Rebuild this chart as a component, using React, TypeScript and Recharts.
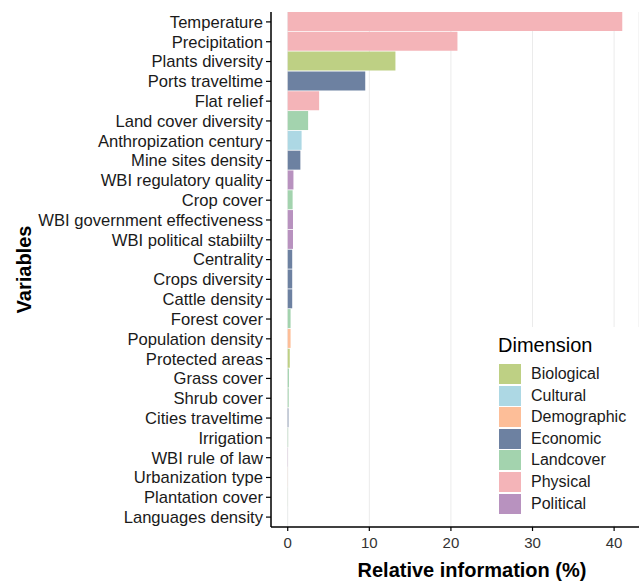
import { BarChart, Bar, XAxis, YAxis, CartesianGrid, Cell, Label } from "recharts";

const variables = [
  "Temperature",
  "Precipitation",
  "Plants diversity",
  "Ports traveltime",
  "Flat relief",
  "Land cover diversity",
  "Anthropization century",
  "Mine sites density",
  "WBI regulatory quality",
  "Crop cover",
  "WBI government effectiveness",
  "WBI political stabiilty",
  "Centrality",
  "Crops diversity",
  "Cattle density",
  "Forest cover",
  "Population density",
  "Protected areas",
  "Grass cover",
  "Shrub cover",
  "Cities traveltime",
  "Irrigation",
  "WBI rule of law",
  "Urbanization type",
  "Plantation cover",
  "Languages density",
];

const values = [
  41.0, 20.8, 13.2, 9.5, 3.85, 2.5, 1.7, 1.55, 0.7, 0.6, 0.65, 0.65, 0.55, 0.55,
  0.55, 0.35, 0.35, 0.25, 0.15, 0.12, 0.08, 0.05, 0.02, 0.01, 0.01, 0.005,
];

const dimensions = [
  "Physical",
  "Physical",
  "Biological",
  "Economic",
  "Physical",
  "Landcover",
  "Cultural",
  "Economic",
  "Political",
  "Landcover",
  "Political",
  "Political",
  "Economic",
  "Economic",
  "Economic",
  "Landcover",
  "Demographic",
  "Biological",
  "Landcover",
  "Landcover",
  "Economic",
  "Landcover",
  "Political",
  "Demographic",
  "Landcover",
  "Cultural",
];

const legendNames = [
  "Biological",
  "Cultural",
  "Demographic",
  "Economic",
  "Landcover",
  "Physical",
  "Political",
];

const xTicks = [0, 10, 20, 30, 40];

const palette: Record<string, string> = {
  Biological: "#BED084",
  Cultural: "#ADD8E4",
  Demographic: "#FDBE98",
  Economic: "#6D81A1",
  Landcover: "#A3D3AE",
  Physical: "#F4B4B8",
  Political: "#B892BF",
};

const data = variables.map((name, i) => ({
  name,
  value: values[i],
  dim: dimensions[i],
}));

const FONT = '"Liberation Sans", Arial, sans-serif';

export default function App() {
  return (
    <div
      style={{
        position: "absolute",
        left: 0,
        top: 0,
        width: 639,
        height: 585,
        fontFamily: FONT,
        background: "#fff",
      }}
    >
      <BarChart
        width={639}
        height={585}
        data={data}
        layout="vertical"
        margin={{ top: 12, right: 0, left: 0, bottom: 0 }}
      >
        <CartesianGrid horizontal={false} stroke="#EBEBEB" strokeWidth={1} />
        <XAxis
          type="number"
          domain={[-2.05, 43.05]}
          ticks={xTicks}
          allowDataOverflow
          height={58}
          tickSize={4}
          tickMargin={6}
          tick={{ fontSize: 15, fill: "#333", fontFamily: FONT }}
          axisLine={{ stroke: "#000", strokeWidth: 1.5 }}
          tickLine={{ stroke: "#000", strokeWidth: 1.2 }}
        >
          <Label
            value="Relative information (%)"
            position="insideBottom"
            offset={8}
            dx={17}
            style={{ fontSize: 20, fontWeight: 700, fill: "#000", fontFamily: FONT }}
          />
        </XAxis>
        <YAxis
          type="category"
          dataKey="name"
          width={271}
          interval={0}
          tickSize={5}
          tickMargin={3}
          tick={{ fontSize: 16.6, fill: "#1a1a1a", fontFamily: FONT }}
          axisLine={{ stroke: "#000", strokeWidth: 1.5 }}
          tickLine={{ stroke: "#000", strokeWidth: 1.2 }}
        >
          <Label
            value="Variables"
            angle={-90}
            position="insideLeft"
            offset={24}
            style={{
              textAnchor: "middle",
              fontSize: 20,
              fontWeight: 700,
              fill: "#000",
              fontFamily: FONT,
            }}
          />
        </YAxis>
        <Bar dataKey="value" barSize={19} isAnimationActive={false}>
          {data.map((d) => (
            <Cell key={d.name} fill={palette[d.dim]} />
          ))}
        </Bar>
      </BarChart>
      <div
        style={{
          position: "absolute",
          left: 488,
          top: 327,
          width: 151,
          height: 198,
          background: "#fff",
        }}
      >
        <div
          style={{
            position: "absolute",
            left: 10,
            top: 6,
            fontSize: 20,
            lineHeight: "24px",
            color: "#000",
          }}
        >
          Dimension
        </div>
        {legendNames.map((n, i) => (
          <div
            key={n}
            style={{
              position: "absolute",
              left: 11,
              top: 37 + i * 21.6,
              height: 20,
              display: "flex",
              alignItems: "center",
            }}
          >
            <div style={{ width: 22, height: 20, background: palette[n] }} />
            <span
              style={{
                marginLeft: 10,
                fontSize: 16,
                color: "#1a1a1a",
                whiteSpace: "nowrap",
              }}
            >
              {n}
            </span>
          </div>
        ))}
      </div>
    </div>
  );
}
